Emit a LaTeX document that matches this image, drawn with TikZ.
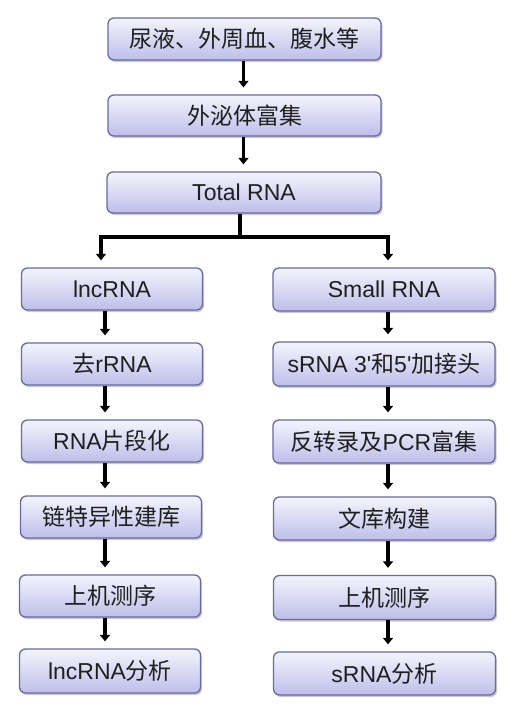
\documentclass[tikz,border=0pt]{standalone}
\usepackage{fontspec}
\setmainfont{Liberation Sans}
\newfontfamily\cjk{Noto Sans CJK SC}
\newfontfamily\plainfont{Liberation Sans}
\usetikzlibrary{arrows.meta,shadows}
\newcommand{\zh}[1]{{\cjk #1}}
\newcommand{\apos}{{\plainfont\symbol{"27}}}
\definecolor{boxtop}{HTML}{F4F4FD}
\definecolor{boxbot}{HTML}{BEBEEA}
\definecolor{boxline}{HTML}{6A6AA2}
\tikzset{
  box/.style={draw=boxline, line width=1.3pt, rounded corners=6pt,
    top color=boxtop, bottom color=boxbot, inner sep=0pt,
    font=\fontsize{23}{26}\selectfont, text=black!88,
    drop shadow={shadow xshift=1.5pt, shadow yshift=-2pt, opacity=0.35, fill=black!60}},
  arr/.style={line width=3.6pt, -{Triangle[width=10pt,length=6.5pt]}, shorten >=7pt},
  bar/.style={line width=3.6pt}
}
\begin{document}
\begin{tikzpicture}[x=1pt,y=-1pt]
\useasboundingbox (0,0) rectangle (515,713);
% top chain
\node[box, minimum width=273pt, minimum height=42pt] (t1) at (244.5,39) {\zh{尿液、外周血、腹水等}};
\node[box, minimum width=273pt, minimum height=41pt] (t2) at (244.5,115.5) {\zh{外泌体富集}};
\node[box, minimum width=274pt, minimum height=41pt] (t3) at (244,192.5) {Total RNA};
% left column
\node[box, minimum width=181pt, minimum height=42pt] (l1) at (112,289) {lncRNA};
\node[box, minimum width=181pt, minimum height=42pt] (l2) at (112,364) {\zh{去}rRNA};
\node[box, minimum width=181pt, minimum height=42pt] (l3) at (112,441) {RNA\zh{片段化}};
\node[box, minimum width=181pt, minimum height=42pt] (l4) at (111,517) {\zh{链特异性建库}};
\node[box, minimum width=181pt, minimum height=42pt] (l5) at (110,596) {\zh{上机测序}};
\node[box, minimum width=181pt, minimum height=44pt] (l6) at (110,671) {lncRNA\zh{分析}};
% right column
\node[box, minimum width=222pt, minimum height=43pt] (r1) at (384,289.5) {Small RNA};
\node[box, minimum width=222pt, minimum height=44pt] (r2) at (384,364) {sRNA 3\apos\zh{和}5\apos\zh{加接头}};
\node[box, minimum width=222pt, minimum height=43pt] (r3) at (384,441.5) {\zh{反转录及}PCR\zh{富集}};
\node[box, minimum width=222pt, minimum height=43pt] (r4) at (384.5,518.5) {\zh{文库构建}};
\node[box, minimum width=222pt, minimum height=44pt] (r5) at (384.5,597.5) {\zh{上机测序}};
\node[box, minimum width=222pt, minimum height=43pt] (r6) at (384.5,673.5) {sRNA\zh{分析}};
% guide coordinates
\coordinate (xm) at (243.5,0);
\coordinate (j) at (240,237);
\coordinate (jl) at (101,237);
\coordinate (jr) at (388,237);
\coordinate (xl) at (105,0);
\coordinate (xr) at (388,0);
% arrows
\draw[arr] (t1.south -| xm) -- (t2.north -| xm);
\draw[arr] (t2.south -| xm) -- (t3.north -| xm);
\draw[bar] (t3.south -| j) -- (j);
\draw[bar, line cap=rect] (jl) -- (jr);
\draw[arr] (jl) -- (l1.north -| jl);
\draw[arr] (jr) -- (r1.north -| jr);
\draw[arr] (l1.south -| xl) -- (l2.north -| xl);
\draw[arr] (l2.south -| xl) -- (l3.north -| xl);
\draw[arr] (l3.south -| xl) -- (l4.north -| xl);
\draw[arr] (l4.south -| xl) -- (l5.north -| xl);
\draw[arr] (l5.south -| xl) -- (l6.north -| xl);
\draw[arr] (r1.south -| xr) -- (r2.north -| xr);
\draw[arr] (r2.south -| xr) -- (r3.north -| xr);
\draw[arr] (r3.south -| xr) -- (r4.north -| xr);
\draw[arr] (r4.south -| xr) -- (r5.north -| xr);
\draw[arr] (r5.south -| xr) -- (r6.north -| xr);
\end{tikzpicture}
\end{document}
